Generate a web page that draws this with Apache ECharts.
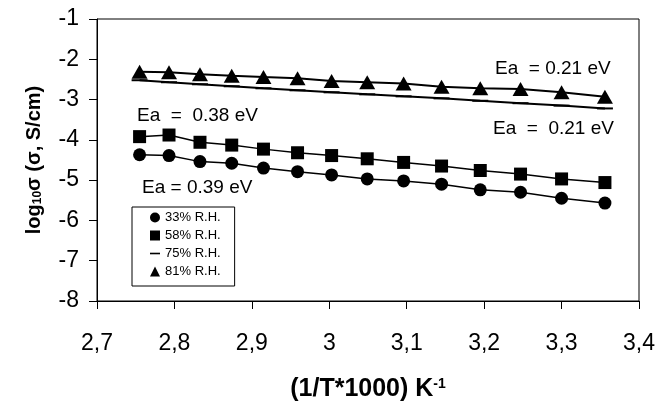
<!DOCTYPE html>
<html>
<head>
<meta charset="utf-8">
<script src="https://cdn.jsdelivr.net/npm/echarts@6/dist/echarts.min.js"></script>
<style>
  html, body { margin: 0; padding: 0; background: #fff; }
  #chart { width: 658px; height: 408px; }
</style>
</head>
<body>
<div id="chart"></div>
<script>
// 1000/T (K^-1) for each measurement temperature
const invT = [2.755, 2.793, 2.833, 2.874, 2.915, 2.959, 3.003, 3.049, 3.096, 3.145, 3.195, 3.247, 3.300, 3.356];

// log10 sigma (S/cm)
const rh33 = [-4.37, -4.39, -4.54, -4.58, -4.70, -4.79, -4.87, -4.97, -5.02, -5.10, -5.24, -5.30, -5.45, -5.57];
const rh58 = [-3.92, -3.88, -4.06, -4.13, -4.23, -4.32, -4.39, -4.47, -4.56, -4.65, -4.76, -4.85, -4.97, -5.06];
const rh75 = [-2.52, -2.57, -2.62, -2.67, -2.72, -2.77, -2.82, -2.87, -2.92, -2.97, -3.03, -3.09, -3.15, -3.22];
const rh81 = [-2.31, -2.32, -2.37, -2.41, -2.44, -2.47, -2.54, -2.57, -2.60, -2.68, -2.72, -2.74, -2.82, -2.93];

const seriesNames = ['33% R.H.', '58% R.H.', '75% R.H.', '81% R.H.'];

// activation energy notes
const notes = ['Ea  = 0.21 eV', 'Ea  =  0.21 eV', 'Ea  =  0.38 eV', 'Ea = 0.39 eV'];

const FONT = '"Liberation Sans", Arial, sans-serif';
const pairs = ys => invT.map((x, i) => [x, ys[i]]);

const chart = echarts.init(document.getElementById('chart'));

const option = {
    animation: false,
    backgroundColor: '#fff',
    grid: {
        left: 97, right: 19, top: 19, bottom: 107,
        show: true, borderColor: '#000', borderWidth: 1
    },
    xAxis: {
        type: 'value',
        min: 2.7, max: 3.4, interval: 0.1,
        axisLine: { lineStyle: { color: '#000', width: 1 } },
        axisTick: { length: 8, lineStyle: { color: '#000' } },
        axisLabel: {
            color: '#000', fontSize: 23, fontFamily: FONT, margin: 31,
            formatter: v => String(Number(v.toFixed(1))).replace('.', ',')
        },
        splitLine: { show: false },
        name: '(1/T*1000) K{sup|-1}',
        nameLocation: 'middle',
        nameGap: 76,
        nameTextStyle: {
            color: '#000', fontSize: 25, fontWeight: 'bold', fontFamily: FONT,
            rich: {
                sup: { fontSize: 14, fontWeight: 'bold', fontFamily: FONT, verticalAlign: 'top', lineHeight: 14, color: '#000' }
            }
        }
    },
    yAxis: {
        type: 'value',
        min: -8, max: -1, interval: 1,
        axisLine: { show: true, lineStyle: { color: '#000', width: 1 } },
        axisTick: { show: true, length: 8, lineStyle: { color: '#000' } },
        axisLabel: { color: '#000', fontSize: 23, fontFamily: FONT, margin: 18 },
        splitLine: { show: false },
        name: 'log{s|10}σ (σ, S/cm)',
        nameLocation: 'middle',
        nameGap: 53,
        nameTextStyle: {
            color: '#000', fontSize: 20, fontWeight: 'bold', fontFamily: FONT,
            rich: {
                s: { fontSize: 12, fontWeight: 'bold', fontFamily: FONT, lineHeight: 12, verticalAlign: 'bottom', color: '#000' }
            }
        }
    },
    legend: {
        orient: 'vertical',
        left: 132, top: 207,
        padding: [4, 14, 8, 18],
        itemGap: 5,
        itemWidth: 10, itemHeight: 10,
        borderColor: '#000', borderWidth: 1,
        backgroundColor: '#fff',
        textStyle: { color: '#000', fontSize: 13, fontFamily: FONT },
        data: [
            { name: seriesNames[0], icon: 'circle' },
            { name: seriesNames[1], icon: 'rect' },
            { name: seriesNames[2], icon: 'path://M0,0h10v1.6h-10z' },
            { name: seriesNames[3], icon: 'triangle' }
        ]
    },
    graphic: [
        { type: 'text', x: 495, y: 69, style: { text: notes[0], font: '19px ' + FONT, fill: '#000', verticalAlign: 'middle' } },
        { type: 'text', x: 493, y: 129, style: { text: notes[1], font: '19px ' + FONT, fill: '#000', verticalAlign: 'middle' } },
        { type: 'text', x: 137, y: 116, style: { text: notes[2], font: '19px ' + FONT, fill: '#000', verticalAlign: 'middle' } },
        { type: 'text', x: 142, y: 188, style: { text: notes[3], font: '19px ' + FONT, fill: '#000', verticalAlign: 'middle' } }
    ],
    series: [
        {
            name: seriesNames[0], type: 'line', data: pairs(rh33),
            symbol: 'circle', symbolSize: 13, showAllSymbol: true,
            itemStyle: { color: '#000' }, lineStyle: { color: '#000', width: 1.5 }
        },
        {
            name: seriesNames[1], type: 'line', data: pairs(rh58),
            symbol: 'rect', symbolSize: 13, showAllSymbol: true,
            itemStyle: { color: '#000' }, lineStyle: { color: '#000', width: 1.5 }
        },
        {
            name: seriesNames[2], type: 'line', data: pairs(rh75),
            symbol: 'rect', symbolSize: [16, 2], showAllSymbol: true,
            itemStyle: { color: '#000' }, lineStyle: { color: '#000', width: 2 }
        },
        {
            name: seriesNames[3], type: 'line', data: pairs(rh81),
            symbol: 'triangle', symbolSize: [16, 14], showAllSymbol: true,
            itemStyle: { color: '#000' }, lineStyle: { color: '#000', width: 2 }
        }
    ]
};

chart.setOption(option);
</script>
</body>
</html>
